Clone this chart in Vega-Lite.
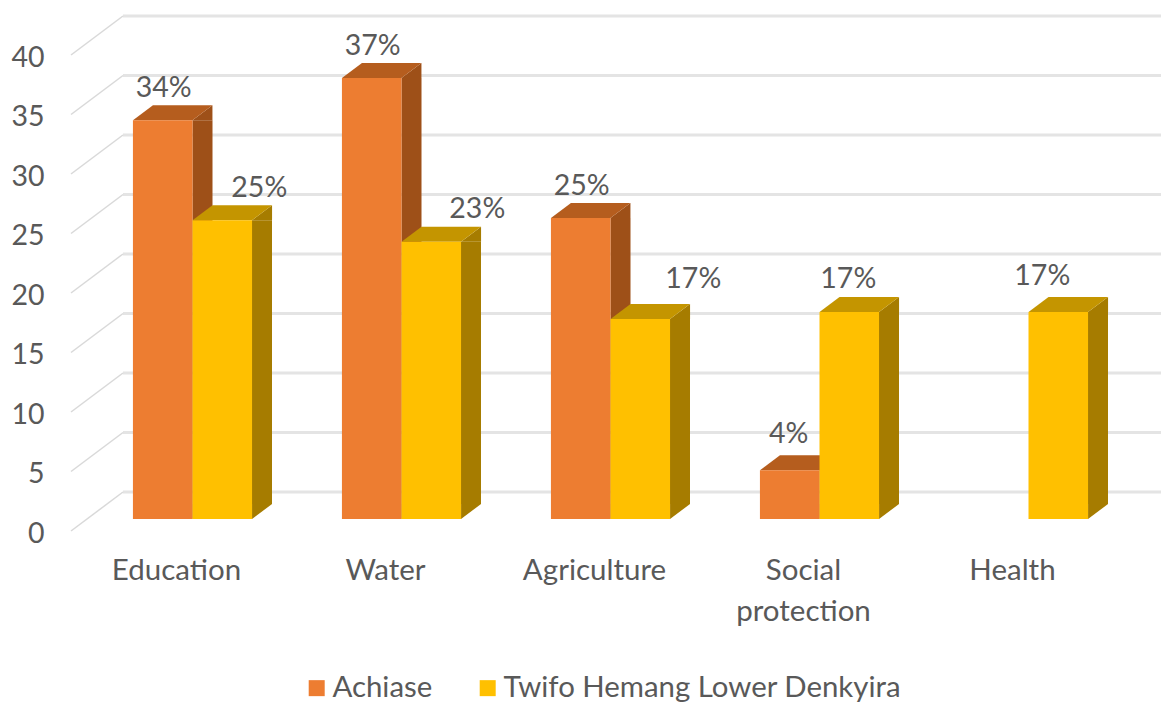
{
"$schema":"https://vega.github.io/schema/vega-lite/v6.json",
"width":1045,"height":476,
"autosize":{"type":"none"},
"padding":{"left":88,"top":43,"right":28,"bottom":183},
"background":"white",
"config":{"view":{"stroke":null},"font":"Lato"},
"data":{"values":[
{"category":"Education","series":"Achiase","value":33.5,"label":"34%"},
{"category":"Education","series":"Twifo Hemang Lower Denkyira","value":25.1,"label":"25%"},
{"category":"Water","series":"Achiase","value":37.06,"label":"37%"},
{"category":"Water","series":"Twifo Hemang Lower Denkyira","value":23.3,"label":"23%"},
{"category":"Agriculture","series":"Achiase","value":25.3,"label":"25%"},
{"category":"Agriculture","series":"Twifo Hemang Lower Denkyira","value":16.8,"label":"17%"},
{"category":"Social protection","series":"Achiase","value":4.1,"label":"4%"},
{"category":"Social protection","series":"Twifo Hemang Lower Denkyira","value":17.4,"label":"17%"},
{"category":"Health","series":"Twifo Hemang Lower Denkyira","value":17.4,"label":"17%"}
]},
"encoding":{
"x":{"field":"category","type":"nominal","sort":["Education","Water","Agriculture","Social protection","Health"],
 "scale":{"paddingInner":0.43,"paddingOuter":0.215},
 "axis":{"title":null,"domain":false,"ticks":false,"labelAngle":0,"labelFontSize":29.5,"labelColor":"#595959","labelPadding":51,"labelOffset":-16,"labelLineHeight":41,"labelExpr":"split(datum.label,' ')","labelBaseline":"middle"}},
"xOffset":{"field":"series","type":"nominal","scale":{"domain":["Achiase","Twifo Hemang Lower Denkyira"],"paddingInner":0,"paddingOuter":0}}
},
"layer":[
{"data":{"values":[{"tick":0},{"tick":5},{"tick":10},{"tick":15},{"tick":20},{"tick":25},{"tick":30},{"tick":35},{"tick":40}]},
 "mark":{"type":"point","shape":"M-487.5,-27L550.5,-27","size":4,"stroke":"#e4e4e4","strokeWidth":3,"filled":false,"opacity":1},
 "encoding":{"x":{"value":522.5},"xOffset":{"value":0},"y":{"field":"tick","type":"quantitative"}}},
{"data":{"values":[{"tick":0},{"tick":5},{"tick":10},{"tick":15},{"tick":20},{"tick":25},{"tick":30},{"tick":35},{"tick":40}]},
 "mark":{"type":"point","shape":"M-539.5,12L-487.5,-27","size":4,"stroke":"#d9d9d9","strokeWidth":1.5,"filled":false,"opacity":1},
 "encoding":{"x":{"value":522.5},"xOffset":{"value":0},"y":{"field":"tick","type":"quantitative"}}},
{"transform":[{"filter":"datum.series==='Achiase'"}],
 "mark":{"type":"bar","width":20,"xOffset":10,"y2Offset":-15,"color":"#9e5018"},
 "encoding":{"xOffset":null,"y":{"field":"value","type":"quantitative","scale":{"domain":[0,40]},"axis":{"title":null,"domain":false,"ticks":false,"grid":false,"values":[0,5,10,15,20,25,30,35,40],"labelFontSize":28.5,"labelColor":"#595959","labelPadding":44,"labelOffset":14}},
  "y2":{"datum":0}}},
{"transform":[{"filter":"datum.series!=='Achiase'"}],
 "mark":{"type":"bar","width":20,"xOffset":69.5,"y2Offset":-15,"color":"#a67c00"},
 "encoding":{"xOffset":null,"y":{"field":"value","type":"quantitative"},"y2":{"datum":0}}},
{"mark":{"type":"point","shape":"M29.75,0L49.75,-15L49.75,0Z","size":4,"filled":true,"opacity":1},
 "encoding":{"y":{"field":"value","type":"quantitative"},
  "fill":{"condition":{"test":"datum.series==='Achiase'","value":"#9e5018"},"value":"#a67c00"}}},
{"mark":{"type":"point","shape":"M29.75,-15L49.75,-15L29.75,0Z","size":4,"filled":true,"opacity":1},
 "encoding":{"y":{"datum":0},
  "fill":{"condition":{"test":"datum.series==='Achiase'","value":"#9e5018"},"value":"#a67c00"}}},
{"mark":{"type":"point","shape":"M-29.75,0L-9.75,-15L49.75,-15L29.75,0Z","size":4,"filled":true,"opacity":1},
 "encoding":{"y":{"field":"value","type":"quantitative"},
  "fill":{"condition":{"test":"datum.series==='Achiase'","value":"#b55d1e"},"value":"#c49500"}}},
{"mark":{"type":"bar"},
 "encoding":{"y":{"field":"value","type":"quantitative"},"y2":{"datum":0},
  "color":{"field":"series","type":"nominal","scale":{"domain":["Achiase","Twifo Hemang Lower Denkyira"],"range":["#ed7d31","#ffc000"]},
   "legend":{"title":null,"orient":"none","direction":"horizontal","legendX":214,"legendY":630,"symbolType":"square","symbolSize":256,"symbolOpacity":1,"labelFontSize":29.4,"labelColor":"#595959","labelLimit":600,"columnPadding":40,"labelOffset":1}}}},
{"transform":[{"filter":"datum.series==='Achiase' && datum.category!=='Social protection'"}],
 "mark":{"type":"text","fontSize":28.5,"color":"#595959","dy":-32,"dx":1},
 "encoding":{"y":{"field":"value","type":"quantitative"},"text":{"field":"label"}}},
{"transform":[{"filter":"datum.series==='Achiase' && datum.category==='Social protection'"}],
 "mark":{"type":"text","fontSize":28.5,"color":"#595959","dy":-36,"dx":-1},
 "encoding":{"y":{"field":"value","type":"quantitative"},"text":{"field":"label"}}},
{"transform":[{"filter":"datum.series!=='Achiase' && datum.category==='Education'"}],
 "mark":{"type":"text","fontSize":28.5,"color":"#595959","dy":-32,"dx":37},
 "encoding":{"y":{"field":"value","type":"quantitative"},"text":{"field":"label"}}},
{"transform":[{"filter":"datum.series!=='Achiase' && datum.category==='Water'"}],
 "mark":{"type":"text","fontSize":28.5,"color":"#595959","dy":-33,"dx":46},
 "encoding":{"y":{"field":"value","type":"quantitative"},"text":{"field":"label"}}},
{"transform":[{"filter":"datum.series!=='Achiase' && datum.category==='Agriculture'"}],
 "mark":{"type":"text","fontSize":28.5,"color":"#595959","dy":-40,"dx":53},
 "encoding":{"y":{"field":"value","type":"quantitative"},"text":{"field":"label"}}},
{"transform":[{"filter":"datum.series!=='Achiase' && datum.category==='Social protection'"}],
 "mark":{"type":"text","fontSize":28.5,"color":"#595959","dy":-33,"dx":-1},
 "encoding":{"y":{"field":"value","type":"quantitative"},"text":{"field":"label"}}},
{"transform":[{"filter":"datum.series!=='Achiase' && datum.category==='Health'"}],
 "mark":{"type":"text","fontSize":28.5,"color":"#595959","dy":-36,"dx":-16},
 "encoding":{"y":{"field":"value","type":"quantitative"},"text":{"field":"label"}}}
]
}
